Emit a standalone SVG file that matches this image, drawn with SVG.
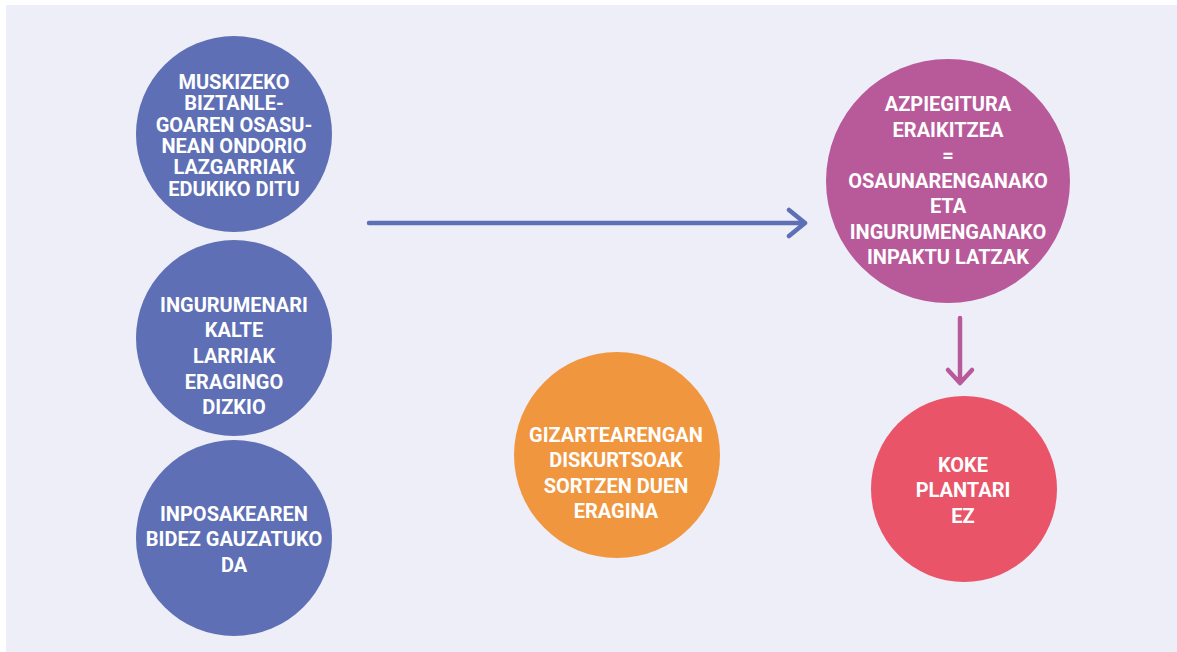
<svg xmlns="http://www.w3.org/2000/svg" width="1177" height="652" viewBox="0 0 1177 652">
<style>
.t{font-family:Roboto,"Liberation Sans",sans-serif;font-weight:700;font-size:20px;fill:#ffffff;text-anchor:middle}
.blue{fill:#5E6FB5}
.mag{fill:#B85A9A}
.org{fill:#F0963F}
.red{fill:#E95468}
.conn{fill:none;stroke-linecap:round;stroke-linejoin:round;stroke-width:4.5}
</style>
<rect x="0" y="0" width="1177" height="652" fill="#ffffff"/>
<rect x="6" y="5" width="1171" height="647" fill="#EEEEF8"/>
<g id="node-muskiz">
<circle class="blue" cx="234" cy="134" r="98"/>
<text class="t" x="234"><tspan x="234" y="89">MUSKIZEKO</tspan><tspan x="234" y="110.3">BIZTANLE-</tspan><tspan x="234" y="131.6">GOAREN OSASU-</tspan><tspan x="234" y="152.9">NEAN ONDORIO</tspan><tspan x="234" y="174.2">LAZGARRIAK</tspan><tspan x="234" y="195.5">EDUKIKO DITU</tspan></text>
</g>
<g id="node-ingurumenari">
<circle class="blue" cx="234" cy="338" r="98"/>
<text class="t"><tspan x="234" y="311.7">INGURUMENARI</tspan><tspan x="234" y="337.3">KALTE</tspan><tspan x="234" y="362.9">LARRIAK</tspan><tspan x="234" y="388.5">ERAGINGO</tspan><tspan x="234" y="414">DIZKIO</tspan></text>
</g>
<g id="node-inposakearen">
<circle class="blue" cx="234" cy="538" r="98"/>
<text class="t"><tspan x="234" y="520.7">INPOSAKEAREN</tspan><tspan x="234" y="546.2">BIDEZ GAUZATUKO</tspan><tspan x="234" y="571.7">DA</tspan></text>
</g>
<g id="node-gizartea">
<circle class="org" cx="617" cy="455" r="103"/>
<text class="t"><tspan x="616" y="441.7">GIZARTEARENGAN</tspan><tspan x="616" y="467.2">DISKURTSOAK</tspan><tspan x="616" y="492.7">SORTZEN DUEN</tspan><tspan x="616" y="518.2">ERAGINA</tspan></text>
</g>
<g id="node-azpiegitura">
<circle class="mag" cx="948" cy="181" r="122"/>
<text class="t"><tspan x="948" y="111">AZPIEGITURA</tspan><tspan x="948" y="136.5">ERAIKITZEA</tspan><tspan x="948" y="162">=</tspan><tspan x="948" y="187.5">OSAUNARENGANAKO</tspan><tspan x="948" y="213">ETA</tspan><tspan x="948" y="238.5">INGURUMENGANAKO</tspan><tspan x="948" y="264">INPAKTU LATZAK</tspan></text>
</g>
<g id="node-koke">
<circle class="red" cx="964" cy="489" r="93"/>
<text class="t"><tspan x="963" y="471.7">KOKE</tspan><tspan x="963" y="497.2">PLANTARI</tspan><tspan x="963" y="522.7">EZ</tspan></text>
</g>
<g id="connectors">
<path class="conn" stroke="#5E6FB5" d="M369 223 H805 M789 210 L805 223 L789 236"/>
<path class="conn" stroke="#B85A9A" d="M960 318 V383 M948 370 L960 383 L972 370"/>
</g>
</svg>
